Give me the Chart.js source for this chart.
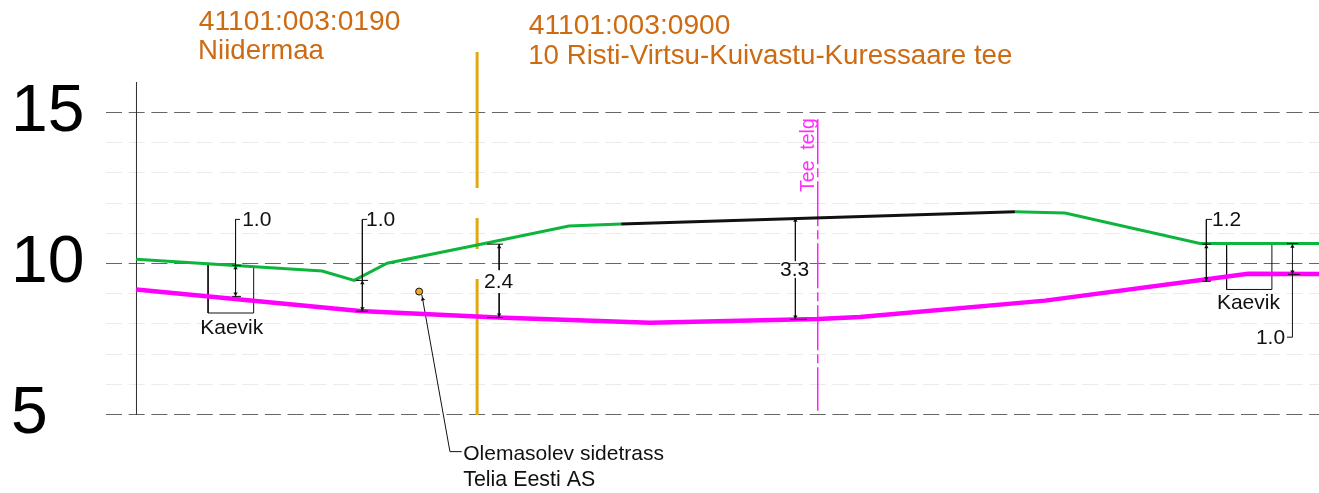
<!DOCTYPE html>
<html>
<head>
<meta charset="utf-8">
<title>Ristlõige</title>
<script src="https://cdn.jsdelivr.net/npm/chart.js@4"></script>
<style>
    html, body { margin: 0; padding: 0; background: #fff; }
    #wrap { width: 1319px; height: 493px; }
</style>
</head>
<body>
<div id="wrap"><canvas id="section"></canvas></div>
<script>
// x = metres from the road axis, y = elevation in metres
var groundLeftX = [-22.58, -16.42, -15.36, -14.27, -11.29, -8.25, -6.52];
var groundLeftY = [10.14, 9.75, 9.44, 10.01, 10.61, 11.24, 11.31];
var roadX = [-6.52, 6.52];
var roadY = [11.31, 11.71];
var groundRightX = [6.52, 8.18, 12.65, 16.59];
var groundRightY = [11.71, 11.67, 10.66, 10.66];
var cableX = [-22.58, -15.17, -10.60, -5.56, 0, 1.39, 7.52, 14.24, 16.59];
var cableY = [9.14, 8.43, 8.21, 8.04, 8.16, 8.23, 8.77, 9.66, 9.65];

var borderX = [-22.57, -22.57];
var borderY = [16.01, 5.00];
var parcelX = [-11.29, -11.29, null, -11.29, -11.29, null, -11.29, -11.29];
var parcelY = [17.00, 12.50, null, 11.51, 10.48, null, 9.49, 4.98];
var axisX = [-0.01, -0.01];
var axisY = [14.78, 5.12];

// dimension lines, null breaks the line
var dimX = [
    -19.14, -19.29, -19.29, null, -19.40, -19.11, null, -19.40, -19.11, null,
    -14.93, -15.09, -15.09, null, -15.30, -14.90, null, -15.30, -14.90, null,
    -10.96, -10.43, null, -10.56, -10.56, null, -10.56, -10.56, null, -10.96, -10.43, null,
    -0.75, -0.75, null, -0.75, -0.75, null, -0.93, -0.36, null,
    13.05, 12.86, 12.86, null, 12.72, 13.01, null, 12.72, 13.01, null,
    15.53, 15.71, 15.71, null, 15.53, 15.89, null, 15.56, 15.96
];
var dimY = [
    11.46, 11.46, 8.91, null, 9.94, 9.94, null, 8.91, 8.91, null,
    11.46, 11.46, 8.42, null, 9.44, 9.44, null, 8.42, 8.42, null,
    10.64, 10.64, null, 10.64, 9.78, null, 9.02, 8.21, null, 8.21, 8.21, null,
    11.52, 10.08, null, 9.52, 8.15, null, 8.15, 8.15, null,
    11.46, 11.46, 9.41, null, 10.64, 10.64, null, 9.41, 9.41, null,
    7.56, 7.56, 10.66, null, 10.66, 10.66, null, 9.64, 9.64
];
var arrowUpX = [-19.29, -15.09, -10.56, -0.75, 12.86, 15.71];
var arrowUpY = [9.85, 9.35, 10.55, 11.42, 10.55, 10.56];
var arrowDownX = [-19.29, -15.09, -10.56, -0.75, 12.86, 15.71];
var arrowDownY = [9.00, 8.51, 8.30, 8.24, 9.50, 9.73];

var ditchX = [-20.20, -20.20, -18.69, -18.69, null, 13.53, 13.53, 15.03, 15.03];
var ditchY = [10.02, 8.36, 8.36, 9.88, null, 10.65, 9.14, 9.14, 10.65];

var cablePointX = [-13.21];
var cablePointY = [9.07];
var leaderX = [-13.12, -12.19, -11.80];
var leaderY = [8.96, 3.77, 3.77];
var leaderArrowX = [-13.09];
var leaderArrowY = [8.82];

var majorTicks = [5, 10, 15];

var notes = [
    { text: '41101:003:0190', x: -20.51, y: 17.99, font: 28.2, color: '#CD6A12' },
    { text: 'Niidermaa', x: -20.53, y: 17.02, font: 27.6, color: '#CD6A12' },
    { text: '41101:003:0900', x: -9.58, y: 17.86, font: 28.2, color: '#CD6A12' },
    { text: '10 Risti-Virtsu-Kuivastu-Kuressaare tee', x: -9.60, y: 16.85, font: 27.7, color: '#CD6A12' },
    { text: '1.0', x: -19.07, y: 11.43 },
    { text: '1.0', x: -14.97, y: 11.43 },
    { text: '2.4', x: -11.06, y: 9.38 },
    { text: '3.3', x: -1.26, y: 9.78 },
    { text: '1.2', x: 13.05, y: 11.43 },
    { text: '1.0', x: 14.50, y: 7.53 },
    { text: 'Kaevik', x: -20.46, y: 7.86 },
    { text: 'Kaevik', x: 13.21, y: 8.68 },
    { text: 'Olemasolev sidetrass', x: -11.75, y: 3.68 },
    { text: 'Telia Eesti AS', x: -11.75, y: 2.82, font: 21.4 },
    { text: 'Tee  telg', x: -0.30, y: 13.59, font: 19.5, color: '#FF30FF', rotate: true }
];

function toPoints(xs, ys) {
    return xs.map(function (x, i) {
        return { x: x, y: ys[i] };
    });
}

function lineSet(label, xs, ys, color, width, dash) {
    return {
        label: label,
        data: toPoints(xs, ys),
        showLine: true,
        borderColor: color,
        backgroundColor: color,
        borderWidth: width,
        borderDash: dash || [],
        pointRadius: 0,
        tension: 0
    };
}

function pointSet(label, xs, ys, color, radius, style, rotation) {
    return {
        label: label,
        data: toPoints(xs, ys),
        showLine: false,
        pointStyle: style,
        pointRotation: rotation,
        pointRadius: radius,
        pointBackgroundColor: color,
        pointBorderColor: '#111',
        pointBorderWidth: style === 'circle' ? 1 : 0
    };
}

var notesPlugin = {
    id: 'notes',
    afterDatasetsDraw: function (chart) {
        var ctx = chart.ctx;
        ctx.save();
        ctx.textBaseline = 'middle';
        notes.forEach(function (n) {
            var px = chart.scales.x.getPixelForValue(n.x);
            var py = chart.scales.y.getPixelForValue(n.y);
            ctx.font = (n.font || 21) + 'px "Liberation Sans"';
            ctx.fillStyle = n.color || '#111';
            if (n.rotate) {
                ctx.save();
                ctx.translate(px, py);
                ctx.rotate(-Math.PI / 2);
                ctx.textAlign = 'center';
                ctx.fillText(n.text, 0, 0);
                ctx.restore();
            } else {
                ctx.textAlign = 'left';
                ctx.fillText(n.text, px, py);
            }
        });
        ctx.restore();
    }
};

new Chart(document.getElementById('section'), {
    type: 'scatter',
    data: {
        datasets: [
            pointSet('Sidetrass', cablePointX, cablePointY, '#F5A81C', 3.5, 'circle', 0),
            pointSet('Nool üles', arrowUpX, arrowUpY, '#111', 2.5, 'triangle', 0),
            pointSet('Nool alla', arrowDownX, arrowDownY, '#111', 2.5, 'triangle', 180),
            pointSet('Viite nool', leaderArrowX, leaderArrowY, '#111', 2.5, 'triangle', -10),
            lineSet('Mõõdud', dimX, dimY, '#111', 1),
            lineSet('Tee', roadX, roadY, '#111', 3),
            lineSet('Maapind vasak', groundLeftX, groundLeftY, '#0DB53C', 3),
            lineSet('Maapind parem', groundRightX, groundRightY, '#0DB53C', 3),
            lineSet('Kaabel', cableX, cableY, '#FF00FF', 4.5),
            lineSet('Viide', leaderX, leaderY, '#111', 1),
            lineSet('Kaevik', ditchX, ditchY, '#111', 1),
            lineSet('Tee telg', axisX, axisY, '#FF20FF', 1.5, [45, 4, 9, 4]),
            lineSet('Katastri piir', parcelX, parcelY, '#E0A812', 3),
            lineSet('Algus', borderX, borderY, '#333', 1)
        ]
    },
    options: {
        responsive: true,
        maintainAspectRatio: false,
        animation: false,
        layout: { padding: { left: 11 }, autoPadding: false },
        plugins: {
            legend: { display: false },
            title: { display: false },
            tooltip: { enabled: false }
        },
        scales: {
            x: {
                type: 'linear',
                display: false,
                min: -23.58,
                max: 16.59
            },
            y: {
                type: 'linear',
                min: 2.40,
                max: 18.725,
                afterFit: function (scale) {
                    scale.width = 95;
                    scale.paddingTop = 0;
                    scale.paddingBottom = 0;
                },
                border: { display: false, dash: [16, 6.7] },
                grid: {
                    drawTicks: false,
                    tickLength: 0,
                    color: function (c) {
                        var v = c.tick.value;
                        if (v < 5 || v > 15) {
                            return 'transparent';
                        }
                        return majorTicks.indexOf(v) >= 0 ? '#666' : '#EBEBEB';
                    }
                },
                ticks: {
                    stepSize: 1,
                    includeBounds: false,
                    autoSkip: false,
                    maxRotation: 0,
                    crossAlign: 'far',
                    padding: 0,
                    color: '#000',
                    font: { family: '"Liberation Sans"', size: 66 },
                    callback: function (value) {
                        return majorTicks.indexOf(value) >= 0 ? String(value) : '';
                    }
                }
            }
        }
    },
    plugins: [notesPlugin]
});
</script>
</body>
</html>
